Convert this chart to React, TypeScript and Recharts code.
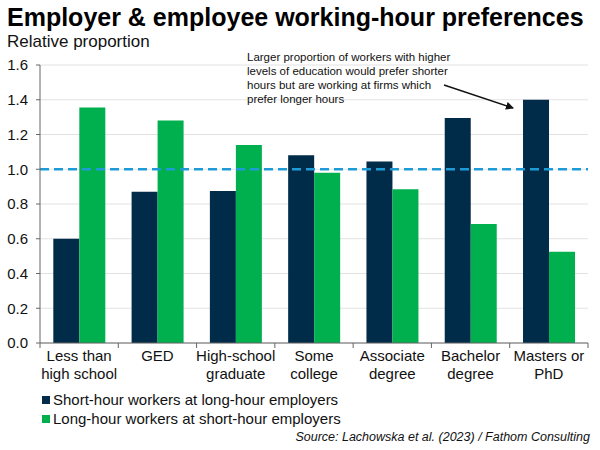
import { BarChart, Bar, XAxis, YAxis, CartesianGrid, ReferenceLine } from 'recharts';

const categories = [
  'Less than\nhigh school',
  'GED',
  'High-school\ngraduate',
  'Some\ncollege',
  'Associate\ndegree',
  'Bachelor\ndegree',
  'Masters or\nPhD',
];
const shortAtLong = [0.6, 0.87, 0.875, 1.08, 1.045, 1.295, 1.4];
const longAtShort = [1.355, 1.28, 1.14, 0.98, 0.885, 0.685, 0.525];
const yTicks = [0, 0.2, 0.4, 0.6, 0.8, 1.0, 1.2, 1.4, 1.6];

const NAVY = '#002b49';
const GREEN = '#00b04f';
const FONT = '"Liberation Sans", Arial, sans-serif';

const data = categories.map((c, i) => ({
  name: c,
  short: shortAtLong[i],
  long: longAtShort[i],
}));

const band = 548 / categories.length;

function CategoryTick(props: any) {
  const { x, y, payload, index } = props;
  const lines = String(payload.value).split('\n');
  return (
    <g>
      <line x1={x - band / 2} x2={x - band / 2} y1={y - 8} y2={y - 3} stroke="#666" />
      {index === categories.length - 1 && (
        <line x1={x + band / 2} x2={x + band / 2} y1={y - 8} y2={y - 3} stroke="#666" />
      )}
      <text x={x} y={y + 10} textAnchor="middle" fontSize={15} fill="#111" fontFamily={FONT}>
        {lines.map((l, i) => (
          <tspan key={i} x={x} dy={i === 0 ? 0 : 18}>
            {l}
          </tspan>
        ))}
      </text>
    </g>
  );
}

export default function App() {
  return (
    <div style={{ position: 'absolute', left: 0, top: 0, width: 600, height: 450, background: '#fff', fontFamily: FONT }}>
      <div style={{ position: 'absolute', left: 7, top: 3, fontSize: 25, fontWeight: 'bold', color: '#000', whiteSpace: 'nowrap' }}>
        Employer &amp; employee working-hour preferences
      </div>
      <div style={{ position: 'absolute', left: 7, top: 32, fontSize: 17, color: '#111' }}>Relative proportion</div>
      <BarChart
        width={600}
        height={450}
        data={data}
        margin={{ top: 65, right: 12, left: 0, bottom: 62 }}
        barCategoryGap="17%"
        barGap={0}
      >
        <CartesianGrid vertical={false} stroke="#e2e2e2" />
        <XAxis
          dataKey="name"
          interval={0}
          height={45}
          tickLine={false}
          axisLine={{ stroke: '#666' }}
          tick={<CategoryTick />}
        />
        <YAxis
          width={40}
          domain={[0, 1.6]}
          ticks={yTicks}
          tickFormatter={(v: number) => v.toFixed(1)}
          tick={{ fontSize: 15, fill: '#111', fontFamily: FONT }}
          tickSize={4}
          tickMargin={8}
          axisLine={{ stroke: '#666' }}
          tickLine={{ stroke: '#666' }}
        />
        <Bar dataKey="short" fill={NAVY} isAnimationActive={false} />
        <Bar dataKey="long" fill={GREEN} isAnimationActive={false} />
        <ReferenceLine y={1} stroke="#1e9bd7" strokeWidth={2.5} strokeDasharray="9 5" />
      </BarChart>
      <div style={{ position: 'absolute', left: 247, top: 50, fontSize: 11.5, lineHeight: '14px', color: '#111' }}>
        Larger proportion of workers with higher
        <br />
        levels of education would prefer shorter
        <br />
        hours but are working at firms which
        <br />
        prefer longer hours
      </div>
      <svg style={{ position: 'absolute', left: 0, top: 0 }} width={600} height={450}>
        <defs>
          <marker id="ah" markerWidth="8" markerHeight="8" refX="7" refY="4" orient="auto" markerUnits="userSpaceOnUse">
            <path d="M0,0 L8,4 L0,8 z" fill="#111" />
          </marker>
        </defs>
        <line x1={444} y1={85} x2={513} y2={108} stroke="#111" strokeWidth={1.5} markerEnd="url(#ah)" />
      </svg>
      <div style={{ position: 'absolute', left: 42, top: 390, fontSize: 15, lineHeight: '19px', color: '#111' }}>
        <div style={{ display: 'flex', alignItems: 'center' }}>
          <span style={{ width: 8, height: 8, background: NAVY, marginRight: 3, display: 'inline-block' }} />
          Short-hour workers at long-hour employers
        </div>
        <div style={{ display: 'flex', alignItems: 'center' }}>
          <span style={{ width: 8, height: 8, background: GREEN, marginRight: 3, display: 'inline-block' }} />
          Long-hour workers at short-hour employers
        </div>
      </div>
      <div style={{ position: 'absolute', right: 10, top: 430, fontSize: 12.5, fontStyle: 'italic', color: '#111' }}>
        Source: Lachowska et al. (2023) / Fathom Consulting
      </div>
    </div>
  );
}
